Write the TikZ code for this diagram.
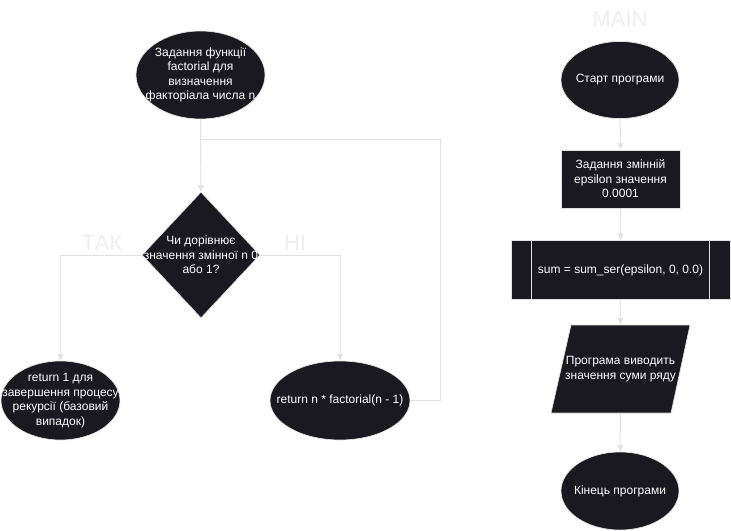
\documentclass[tikz,border=0pt]{standalone}
\usepackage{fontspec}
\setmainfont{Liberation Sans}
\usetikzlibrary{shapes.geometric,arrows.meta}
\definecolor{ink}{HTML}{1A1820}
\definecolor{wire}{HTML}{E2E2E2}
\definecolor{pale}{HTML}{EEEEEE}
\tikzset{
  blk/.style={fill=ink, draw=wire, line width=.5pt, inner sep=0pt},
  txt/.style={text=white, font=\fontsize{9}{10.9}\selectfont, align=center},
  oval/.style={blk, ellipse},
  flow/.style={draw=wire, line width=.75pt, -{Triangle[length=5pt,width=4.5pt]}},
  link/.style={draw=wire, line width=.75pt},
  tag/.style={text=pale, font=\fontsize{16.5}{18}\selectfont}
}
\begin{document}
\begin{tikzpicture}[x=.75pt, y=-.75pt]
  \useasboundingbox (0,0) rectangle (731,531);
  \node[oval, minimum width=96.75pt, minimum height=66pt,
    label={[txt]center:{Задання функції\\factorial для\\визначення\\факторіала числа n}}] (fdef) at (200.5,75) {};
  \node[blk, diamond, minimum width=88.5pt, minimum height=94.5pt,
    label={[txt]center:{Чи дорівнює\\значення змінної n 0\\або 1?}}] (cond) at (201,255) {};
  \node[oval, minimum width=89.25pt, minimum height=59.25pt,
    label={[txt]center:{return 1 для\\завершення процесу\\рекурсії (базовий\\випадок)}}] (ret1) at (60.5,400.5) {};
  \node[oval, minimum width=105pt, minimum height=59.25pt,
    label={[txt]center:{return n * factorial(n - 1)}}] (recur) at (340,400.5) {};
  \node[tag] (tak) at (102,243) {ТАК};
  \node[tag] (ni) at (295,243) {НІ};
  \coordinate (back) at (440,140);
  \coordinate (merge) at (200.5,140);
  \draw[flow] (fdef) -- (cond);
  \draw[flow] (cond.west) -| (ret1.north);
  \draw[flow] (cond.east) -| (recur.north);
  \draw[link] (recur.east) -| (back) -- (merge);

  \node[tag] (mainlbl) at (620,19) {MAIN};
  \node[oval, minimum width=88.5pt, minimum height=57.75pt,
    label={[txt]center:{Старт програми}}] (start) at (620,80) {};
  \node[blk, txt, minimum width=89.25pt, minimum height=43.5pt] (init) at (620.5,179)
    {Задання змінній\\epsilon значення\\0.0001};
  \node[blk, txt, minimum width=164.25pt, minimum height=44.25pt] (proc) at (620.5,270)
    {sum = sum\_ser(epsilon, 0, 0.0)};
  \draw[link] ([xshift=15.75pt]proc.north west) -- ([xshift=15.75pt]proc.south west);
  \draw[link] ([xshift=-15.75pt]proc.north east) -- ([xshift=-15.75pt]proc.south east);
  \filldraw[blk] (571,325) -- (690,325) -- (671,413) -- (551,413) -- cycle;
  \node[txt, inner sep=0pt, minimum width=90pt, minimum height=66pt] (out) at (620.5,369)
    {Програма виводить\\значення суми ряду};
  \node[oval, minimum width=88.5pt, minimum height=58.5pt,
    label={[txt]center:{Кінець програми}}] (fin) at (620,491) {};
  \draw[flow] (start) -- (init);
  \draw[flow] (init) -- (proc);
  \draw[flow] (proc) -- (out);
  \draw[flow] (out) -- (fin);
\end{tikzpicture}
\end{document}
